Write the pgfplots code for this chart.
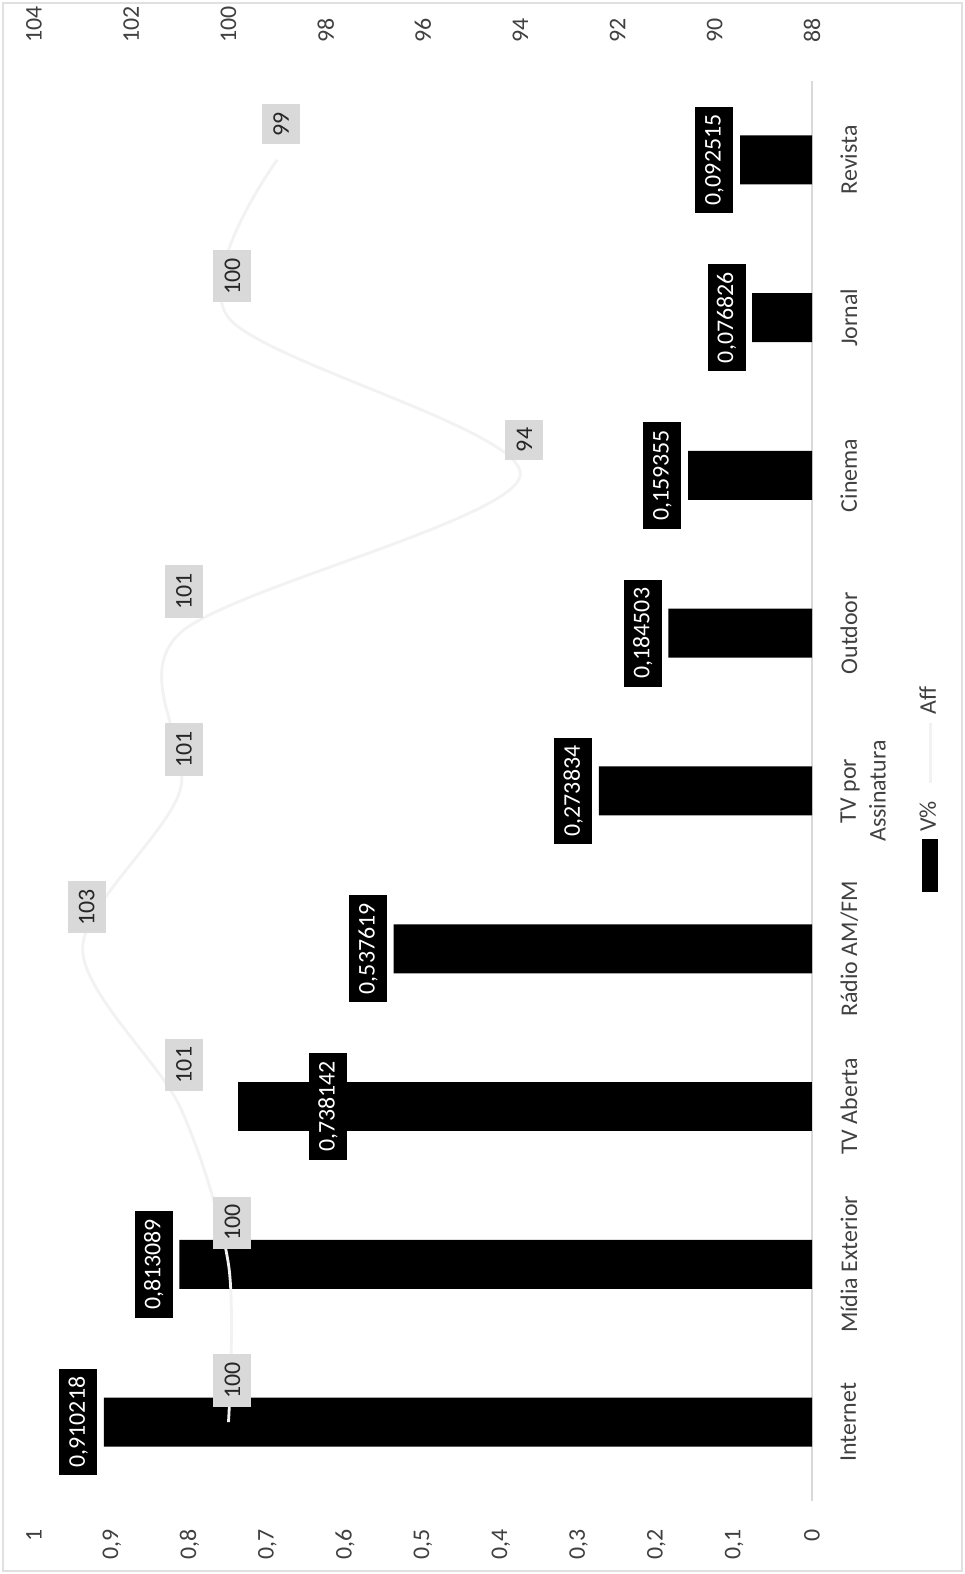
\documentclass[border=0pt]{standalone}
\usepackage{pgfplots}
\pgfplotsset{compat=1.18}
\usepackage{fontspec}
\setmainfont{Carlito}
\newcommand{\lblfont}{\fontsize{6.8}{8.5}\selectfont}
\begin{document}
\begin{tikzpicture}[rotate=90,transform shape]
\fill[white] (0,0) rectangle (157.4mm,96.5mm);
\draw[black!12, line width=0.5pt] (0.3mm,0.3mm) rectangle (157.1mm,96.2mm);
\begin{axis}[
  at={(7.3mm,15.3mm)}, anchor=south west,
  scale only axis, width=142mm, height=77.8mm,
  xmin=-0.5, xmax=8.5, ymin=0, ymax=1,
  axis x line*=bottom, axis y line*=left,
  x axis line style={black!15, -}, y axis line style={draw=none},
  major tick length=0,
  xtick={0,...,8},
  xticklabels={Internet, Mídia Exterior, TV Aberta, Rádio AM/FM, {TV por\\Assinatura}, Outdoor, Cinema, Jornal, Revista},
  xticklabel style={align=center, yshift=-1.6mm, font=\lblfont, text=black!75},
  ytick={0,0.1,0.2,0.3,0.4,0.5,0.6,0.7,0.8,0.9,1},
  yticklabel style={xshift=-1.6mm, font=\lblfont, text=black!75, /pgf/number format/use comma},
  /pgf/number format/assume math mode=true,
  ybar, bar width=4.9mm, bar shift=0pt,
  point meta=explicit symbolic,
  nodes near coords,
  every node near coord/.append style={fill=black, text=white, font=\lblfont, inner xsep=0.8mm, inner ysep=0pt, minimum height=3.8mm, anchor=south, yshift=0.6mm},
]
\addplot[fill=black, draw=none] coordinates {
  (0,0.910218) [0,910218]
  (1,0.813089) [0,813089]
  (3,0.537619) [0,537619]
  (4,0.273834) [0,273834]
  (5,0.184503) [0,184503]
  (6,0.159355) [0,159355]
  (7,0.076826) [0,076826]
  (8,0.092515) [0,092515]
};
\addplot[fill=black, draw=none, every node near coord/.append style={yshift=-11.6mm}] coordinates {
  (2,0.738142) [0,738142]
};
\end{axis}
\begin{axis}[
  at={(7.3mm,15.3mm)}, anchor=south west,
  scale only axis, width=142mm, height=77.8mm,
  xmin=-0.5, xmax=8.5, ymin=88, ymax=104,
  axis x line=none, axis y line*=right,
  y axis line style={draw=none},
  major tick length=0,
  ytick={88,90,92,94,96,98,100,102,104},
  yticklabel style={xshift=2.6mm, font=\lblfont, text=black!75},
  /pgf/number format/assume math mode=true,
  legend style={at={(axis description cs:0.5035,-0.152)}, anchor=center, draw=none, fill=none, font=\lblfont, text=black!75, legend columns=-1, /tikz/every even column/.append style={column sep=1.0mm}},
  legend cell align=left,
]
\addlegendimage{legend image code/.code={\fill[black] (0mm,-0.75mm) rectangle (5.2mm,0.75mm);}}
\addlegendentry{V\%}
\addplot[smooth, color=black!5, line width=0.8pt, mark=none,
  nodes near coords,
  every node near coord/.append style={anchor=west, fill=black!15, text=black!85, font=\lblfont, inner xsep=0.8mm, inner ysep=0pt, minimum height=3.8mm, xshift=1.4mm, yshift=-0.4mm}]
  coordinates {(0,100) (1,100) (2,101) (3,103) (4,101) (5,101) (6,94) (7,100) (8,99)};
\addlegendentry{Aff}
\end{axis}
\pgfresetboundingbox
\path[use as bounding box] (0,0) rectangle (157.4mm,96.5mm);
\end{tikzpicture}
\end{document}
